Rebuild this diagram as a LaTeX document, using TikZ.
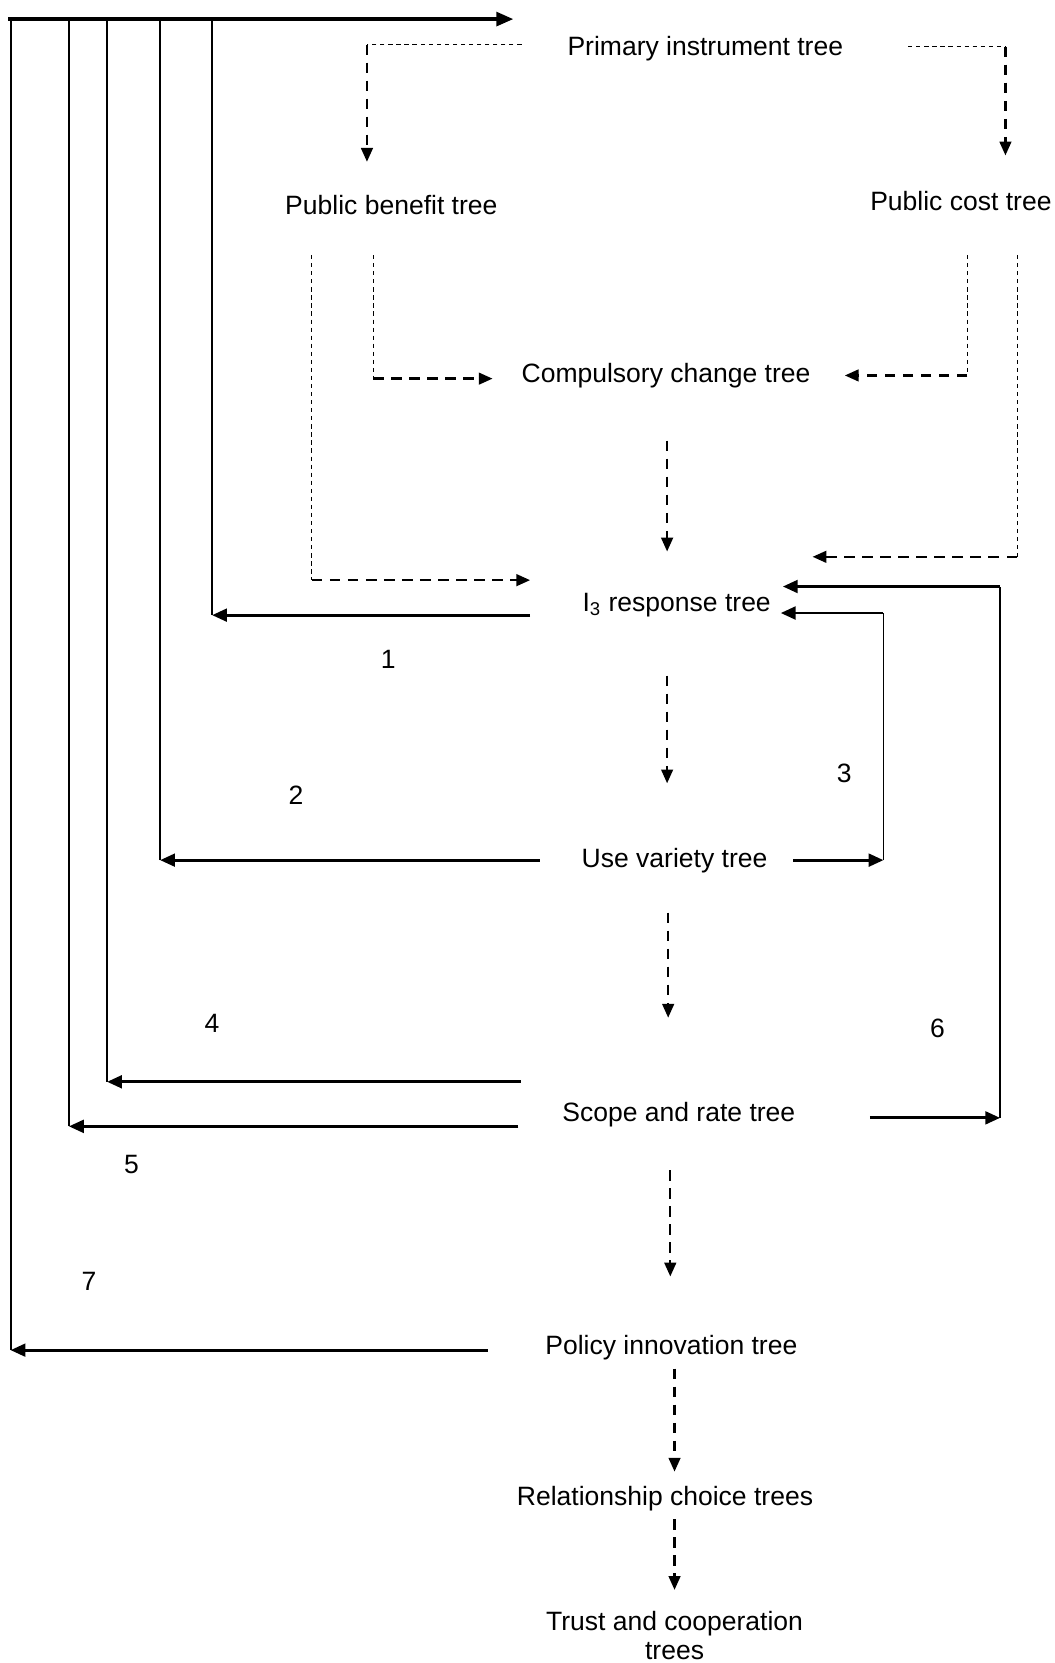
\documentclass[tikz,border=0pt]{standalone}
\usepackage{fontspec}
\setmainfont{Liberation Sans}
\usetikzlibrary{arrows.meta,calc}

\tikzset{
    tree/.style={inner sep=0pt, align=center, text depth=0pt, font=\fontsize{12.5}{13.5}\selectfont},
    num/.style={inner sep=0pt, font=\fontsize{12.5}{13.5}\selectfont},
    flow/.style={line width=1.1pt, dash pattern=on 5pt off 3.5pt, -{Triangle[length=6.5pt,width=5.5pt]}},
    fine/.style={line width=0.5pt, dash pattern=on 2pt off 1.8pt},
    back/.style={line width=1.35pt, -{Triangle[length=7pt,width=6pt]}},
    lane/.style={line width=0.9pt},
}

\begin{document}
\begin{tikzpicture}[x=0.5pt, y=-0.5pt]
    \useasboundingbox (0,0) rectangle (994,1568);

    % the trees
    \node[tree] (pit) at (665,43) {Primary instrument tree};
    \node[tree] (pbt) at (369,193) {Public benefit tree};
    \node[tree] (pct) at (906,189) {Public cost tree};
    \node[tree] (cct) at (628,352) {Compulsory change tree};
    \node[tree] (irt) at (638,568) {I\textsubscript{3} response tree};
    \node[tree] (uvt) at (636,809) {Use variety tree};
    \node[tree] (srt) at (640,1048) {Scope and rate tree};
    \node[tree] (pin) at (633,1268) {Policy innovation tree};
    \node[tree] (rct) at (627,1410) {Relationship choice trees};
    \node[tree] (tct) at (636,1542) {Trust and cooperation\\trees};

    % loop numbers
    \node[num] (n1) at (366,622) {1};
    \node[num] (n2) at (279,750) {2};
    \node[num] (n3) at (796,729) {3};
    \node[num] (n4) at (200,965) {4};
    \node[num] (n5) at (124,1098) {5};
    \node[num] (n6) at (884,970) {6};
    \node[num] (n7) at (84,1208) {7};

    % corners
    \coordinate (top) at (8,18);
    \coordinate (topend) at (484,18);
    \coordinate (c1) at (200,580);
    \coordinate (c2) at (151,811);
    \coordinate (c4) at (101,1020);
    \coordinate (c5) at (65,1062);
    \coordinate (c7) at (10,1273);
    \coordinate (c3) at (833,811);
    \coordinate (d3) at (833,578);
    \coordinate (c6) at (943,1054);
    \coordinate (d6) at (943,553);
    \coordinate (b1) at (346,42);
    \coordinate (b2) at (948,44);
    \coordinate (b3) at (294,547);
    \coordinate (b4) at (352,357);
    \coordinate (b5) at (912,354);
    \coordinate (b6) at (959,525);

    % feedback to the primary instrument tree
    \draw[line width=1.6pt, -{Triangle[length=8pt,width=6.5pt]}] (top) -- (topend);
    \draw[back] ($(irt.west)+(-49,12)$) -- (c1);
    \draw[back] ($(uvt.west)+(-39,2)$) -- (c2);
    \draw[back] ($(srt.west)+(-39,-28)$) -- (c4);
    \draw[back] ($(srt.west)+(-41,14)$) -- (c5);
    \draw[back] ($(pin.west)+(-54,5)$) -- (c7);
    \draw[lane] (c1) -- (c1 |- top);
    \draw[lane] (c2) -- (c2 |- top);
    \draw[lane] (c4) -- (c4 |- top);
    \draw[lane] (c5) -- (c5 |- top);
    \draw[lane] (c7) -- (c7 |- top);

    % feedback to the I3 response tree
    \draw[back] ($(uvt.east)+(24,2)$) -- (c3);
    \draw[lane] (c3) -- (d3);
    \draw[back] (d3) -- ($(irt.east)+(9,10)$);
    \draw[back] ($(srt.east)+(70,6)$) -- (c6);
    \draw[lane] (c6) -- (d6);
    \draw[back] (d6) -- ($(irt.east)+(11,-15)$);

    % primary instrument tree down to benefit and cost
    \draw[fine] ($(pit.west)+(-43,-1)$) -- (b1);
    \draw[flow] (b1) -- ($(b1 |- pbt.north)+(0,-31)$);
    \draw[fine] ($(pit.east)+(61,1)$) -- (b2);
    \draw[flow] (b2) -- ($(b2 |- pct.north)+(0,-33)$);

    % benefit and cost into compulsory change and response
    \draw[fine] ($(pbt.south)+(-75,38)$) -- (b3);
    \draw[flow] (b3) -- ($(irt.west)+(-49,-21)$);
    \draw[fine] ($(pbt.south)+(-17,38)$) -- (b4);
    \draw[flow] (b4) -- ($(cct.west)+(-27,5)$);
    \draw[fine] ($(pct.south)+(6,42)$) -- (b5);
    \draw[flow] (b5) -- ($(cct.east)+(32,2)$);
    \draw[fine] ($(pct.south)+(53,42)$) -- (b6);
    \draw[flow] (b6) -- ($(irt.east)+(39,-43)$);

    % main chain
    \draw[flow] ($(cct.south)+(1,54)$) -- ($(irt.north)+(-9,-39)$);
    \draw[flow] ($(irt.south)+(-9,60)$) -- ($(uvt.north)+(-7,-61)$);
    \draw[flow] ($(uvt.south)+(-6,42)$) -- ($(srt.north)+(-10,-79)$);
    \draw[flow] ($(srt.south)+(-8,46)$) -- ($(pin.north)+(-1,-55)$);
    \draw[flow] ($(pin.south)+(3,13)$) -- ($(rct.north)+(9,-13)$);
    \draw[flow] ($(rct.south)+(9,13)$) -- ($(tct.north)+(0,-20)$);
\end{tikzpicture}
\end{document}
